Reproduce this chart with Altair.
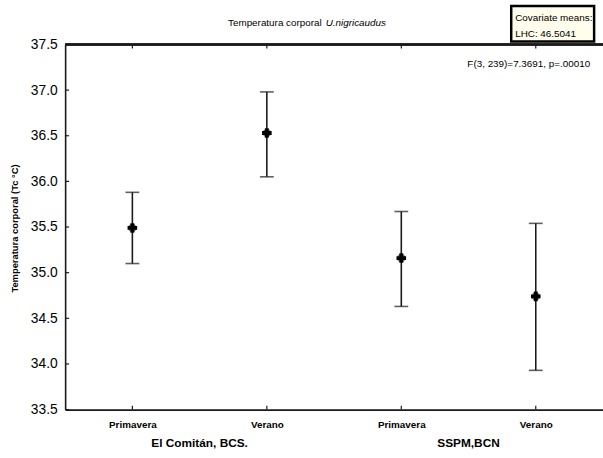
import altair as alt
import pandas as pd

# ---- data ----
groups = ["El Comitán, BCS.", "El Comitán, BCS.", "SSPM,BCN", "SSPM,BCN"]
seasons = ["Primavera", "Verano", "Primavera", "Verano"]
means = [35.49, 36.53, 35.16, 34.74]
lower = [35.10, 36.05, 34.63, 33.93]
upper = [35.88, 36.98, 35.67, 35.54]
group_names = ["El Comitán, BCS.", "SSPM,BCN"]
group_centers = [0.5, 2.5]
y_ticks = [33.5, 34.0, 34.5, 35.0, 35.5, 36.0, 36.5, 37.0, 37.5]

title_plain = "Temperatura corporal"
title_italic = "U.nigricaudus"
y_title = "Temperatura corporal (Tc °C)"
stat_text = "F(3, 239)=7.3691, p=.00010"
cov_lines = ["Covariate means:", "LHC: 46.5041"]

df = pd.DataFrame({
    "pos": list(range(len(seasons))),
    "season": seasons,
    "group": groups,
    "mean": means,
    "lower": lower,
    "upper": upper,
})
gdf = pd.DataFrame({"center": group_centers, "name": group_names})
tdf = pd.DataFrame({"v": y_ticks})

W, H = 545, 370
FONT = "Liberation Sans"
INK = "#1a1a1a"

label_expr = "[" + ",".join(f"'{s}'" for s in seasons) + "][datum.value]"

xscale = alt.Scale(domain=[-0.5, len(seasons) - 0.5], nice=False, zero=False)
yscale = alt.Scale(domain=[33.5, 37.5], nice=False, zero=False)

base = alt.Chart(df)

bars = base.mark_rule(color=INK, strokeWidth=1.6).encode(
    x=alt.X("pos:Q", scale=xscale,
            axis=alt.Axis(values=list(range(len(seasons))), labelExpr=label_expr,
                          title=None, grid=False, tickSize=0, labelPadding=10,
                          labelFont=FONT, labelFontSize=10, labelFontWeight="bold",
                          labelColor="black", domainColor=INK, domainWidth=1.6)),
    y=alt.Y("lower:Q", scale=yscale,
            axis=alt.Axis(values=y_ticks, format=".1f", grid=False, tickSize=0,
                          labelPadding=8, labelFont=FONT, labelFontSize=14,
                          labelColor="black", domainColor=INK, domainWidth=1.6,
                          title=y_title, titleFont=FONT, titleFontSize=9.5,
                          titleFontWeight="bold", titleColor="black",
                          titleX=-51, titleY=186, titleAngle=270,
                          titleAlign="center", titleBaseline="middle")),
    y2="upper:Q",
)

cap_lo = base.mark_tick(orient="horizontal", size=14, thickness=1.6, color=INK).encode(
    x="pos:Q", y="lower:Q")
cap_hi = base.mark_tick(orient="horizontal", size=14, thickness=1.6, color=INK).encode(
    x="pos:Q", y="upper:Q")

marker_diag = base.mark_point(shape="cross", filled=True, size=70, angle=45,
                              color="#555555", opacity=0.8).encode(x="pos:Q", y="mean:Q")
marker = base.mark_point(shape="cross", filled=True, size=95, color="black",
                         opacity=1).encode(x="pos:Q", y="mean:Q")

# inward ticks on top and bottom, and on the y axis
top_ticks = base.mark_rule(color=INK, strokeWidth=1.2).encode(
    x="pos:Q", y=alt.value(0), y2=alt.value(4))
bot_ticks = base.mark_rule(color=INK, strokeWidth=1.2).encode(
    x="pos:Q", y=alt.value(H), y2=alt.value(H - 4))
y_inticks = alt.Chart(tdf).mark_rule(color=INK, strokeWidth=1.2).encode(
    y="v:Q", x=alt.value(0), x2=alt.value(4))
top_line = alt.Chart(tdf).mark_rule(color=INK, strokeWidth=1.6).encode(
    y=alt.value(0), x=alt.value(0), x2=alt.value(W))

group_text = alt.Chart(gdf).mark_text(font=FONT, fontSize=12, fontWeight="bold",
                                      color="black", baseline="middle").encode(
    x="center:Q", y=alt.value(404), text="name:N")

title1 = alt.Chart(pd.DataFrame({"t": [title_plain]})).mark_text(
    font=FONT, fontSize=10, align="right", baseline="middle", color="black").encode(
    x=alt.value(260), y=alt.value(-22), text="t:N")
title2 = alt.Chart(pd.DataFrame({"t": [title_italic]})).mark_text(
    font=FONT, fontSize=10, fontStyle="italic", align="left", baseline="middle",
    color="black").encode(x=alt.value(264), y=alt.value(-22), text="t:N")

stat = alt.Chart(pd.DataFrame({"t": [stat_text]})).mark_text(
    font=FONT, fontSize=10, align="right", baseline="middle", color="black").encode(
    x=alt.value(532), y=alt.value(20), text="t:N")

cov_box = alt.Chart(pd.DataFrame({"t": [0]})).mark_rect(
    fill="#FFFDEB", stroke="black", strokeWidth=2.5).encode(
    x=alt.value(452), x2=alt.value(536), y=alt.value(-39), y2=alt.value(-3))
cov1 = alt.Chart(pd.DataFrame({"t": [cov_lines[0]]})).mark_text(
    font=FONT, fontSize=10, align="left", baseline="middle", color="black").encode(
    x=alt.value(456), y=alt.value(-27), text="t:N")
cov2 = alt.Chart(pd.DataFrame({"t": [cov_lines[1]]})).mark_text(
    font=FONT, fontSize=10, align="left", baseline="middle", color="black").encode(
    x=alt.value(456), y=alt.value(-11), text="t:N")

chart = alt.layer(
    bars, cap_lo, cap_hi, marker_diag, marker, top_ticks, bot_ticks, y_inticks,
    top_line, group_text, title1, title2, stat, cov_box, cov1, cov2,
).properties(
    width=W, height=H,
    autosize=alt.AutoSizeParams(type="none"),
    padding={"left": 66, "top": 42, "right": 0, "bottom": 46},
    background="white",
).configure_view(stroke=None)

chart.save("out.html", embed_options={"renderer": "svg", "actions": False})
